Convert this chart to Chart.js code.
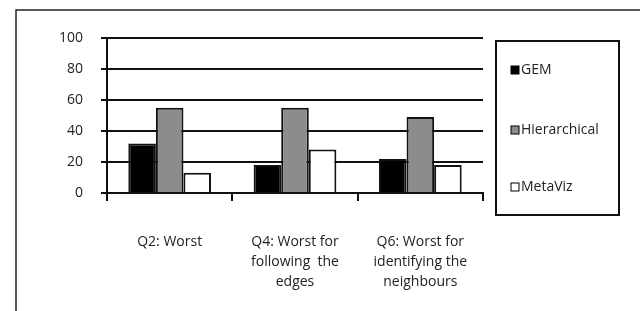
<!DOCTYPE html>
<html>
<head>
<meta charset="utf-8">
<script src="https://cdn.jsdelivr.net/npm/chart.js@4"></script>
<style>
  html, body { margin: 0; padding: 0; background: #fff; }
  #wrap { width: 640px; height: 311px; position: relative; }
</style>
</head>
<body>
<div id="wrap"><canvas id="chart"></canvas></div>
<script>
// Survey answers: "worst" technique per question (%)
const categories = [
    ['Q2: Worst'],
    ['Q4: Worst for', 'following  the', 'edges'],
    ['Q6: Worst for', 'identifying the', 'neighbours']
];
const gemValues = [32, 18, 22];
const hierarchicalValues = [55, 55, 49];
const metaVizValues = [13, 28, 18];
const yTicks = [0, 20, 40, 60, 80, 100];

const FONT = '"Open Sans", sans-serif';

// frame round the whole picture and the boxed legend on the right
const framePlugin = {
    id: 'frame',
    beforeDraw(chart) {
        const c = chart.ctx;
        c.save();
        c.strokeStyle = '#222';
        c.lineWidth = 1.5;
        c.beginPath();
        c.moveTo(16, chart.height);
        c.lineTo(16, 10);
        c.lineTo(chart.width, 10);
        c.stroke();
        c.restore();
    },
    afterDraw(chart) {
        const c = chart.ctx;
        const area = chart.chartArea;
        const x = area.right + 13, y = area.top + 3;
        const w = 123, h = area.bottom + 22 - y;
        c.save();
        c.strokeStyle = '#111';
        c.lineWidth = 2;
        c.strokeRect(x, y, w, h);
        const rows = [70, 130, 187];
        c.font = '14px ' + FONT;
        c.textBaseline = 'middle';
        chart.data.datasets.forEach(function (ds, i) {
            c.fillStyle = ds.backgroundColor;
            c.fillRect(x + 15, rows[i] - 4, 8, 8);
            c.lineWidth = 1;
            c.strokeStyle = '#000';
            c.strokeRect(x + 15, rows[i] - 4, 8, 8);
            c.fillStyle = '#222';
            c.fillText(ds.label, x + 25, rows[i]);
        });
        c.restore();
    }
};

new Chart(document.getElementById('chart'), {
    type: 'bar',
    data: {
        labels: categories,
        datasets: [
            { label: 'GEM', data: gemValues, backgroundColor: '#000000' },
            { label: 'Hierarchical', data: hierarchicalValues, backgroundColor: '#8c8c8c' },
            { label: 'MetaViz', data: metaVizValues, backgroundColor: '#ffffff' }
        ].map(function (d) {
            return Object.assign(d, {
                borderColor: '#111',
                borderWidth: 2,
                barPercentage: 1,
                categoryPercentage: 0.66
            });
        })
    },
    options: {
        responsive: true,
        maintainAspectRatio: false,
        animation: false,
        layout: { padding: { top: 38, right: 157, bottom: 0, left: 0 } },
        plugins: {
            legend: { display: false },
            tooltip: { enabled: false }
        },
        scales: {
            x: {
                offset: true,
                grid: {
                    offset: true,
                    drawOnChartArea: false,
                    drawTicks: true,
                    tickLength: 8,
                    color: '#111',
                    lineWidth: 2
                },
                border: { color: '#111', width: 2 },
                ticks: {
                    color: '#222',
                    font: { family: FONT, size: 14, lineHeight: 1.43 },
                    padding: 31,
                    maxRotation: 0,
                    autoSkip: false
                },
                afterFit: function (scale) { scale.height = 118; }
            },
            y: {
                min: 0,
                max: 100,
                afterBuildTicks: function (scale) {
                    scale.ticks = yTicks.map(function (v) { return { value: v }; });
                },
                grid: {
                    color: '#111',
                    lineWidth: 2,
                    tickLength: 6
                },
                border: { color: '#111', width: 2 },
                ticks: {
                    color: '#222',
                    font: { family: FONT, size: 14 },
                    padding: 18
                },
                afterFit: function (scale) { scale.width = 107; }
            }
        }
    },
    plugins: [framePlugin]
});
</script>
</body>
</html>
